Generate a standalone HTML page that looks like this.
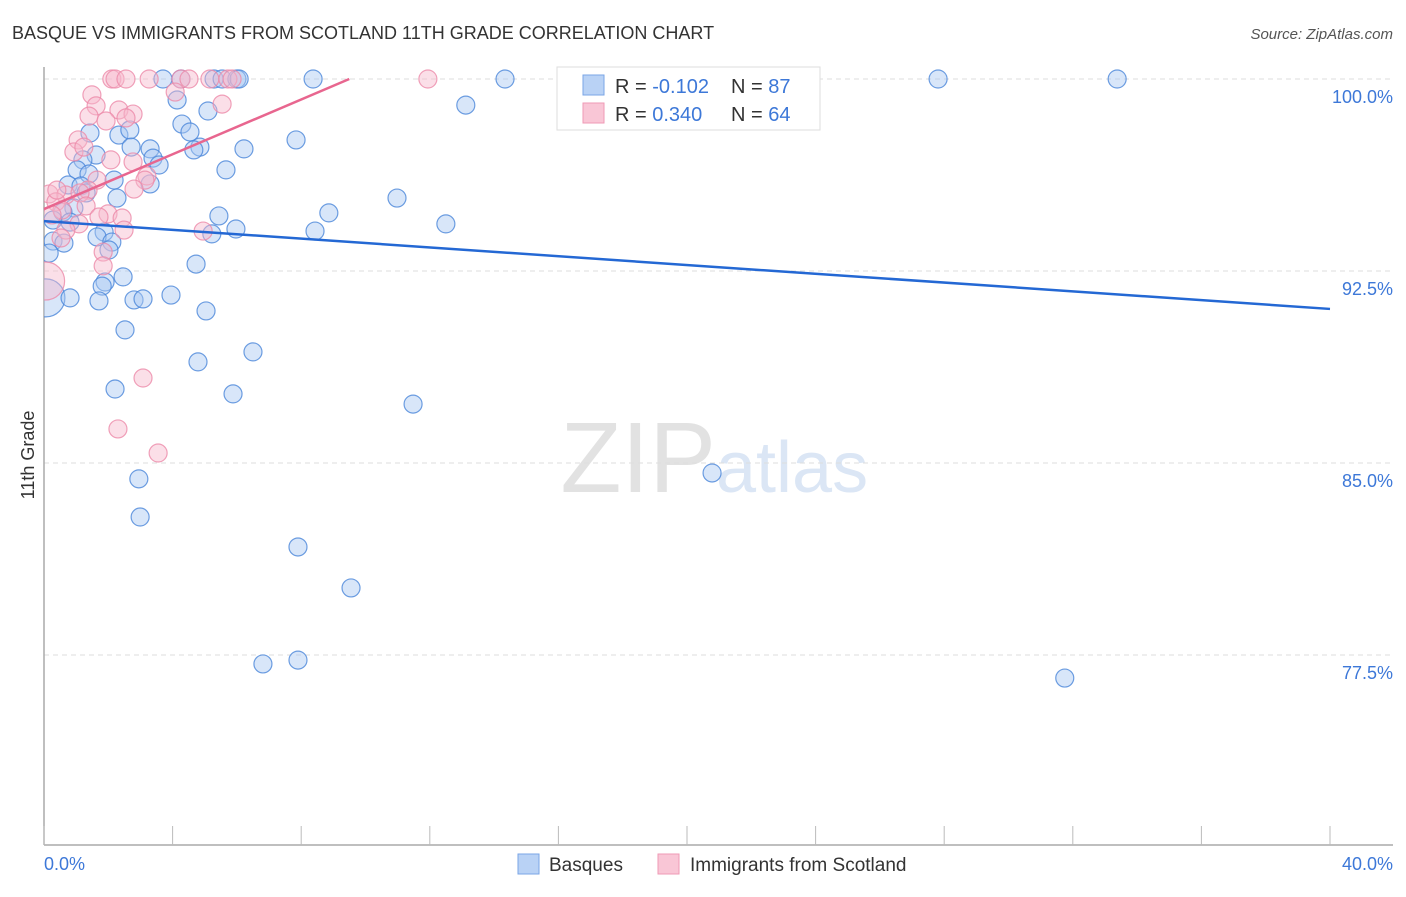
<!DOCTYPE html>
<html><head><meta charset="utf-8">
<style>
body{margin:0;background:#fff;font-family:"Liberation Sans",sans-serif;}
svg text{font-family:"Liberation Sans",sans-serif;}
</style></head>
<body>
<svg id="chart" width="1406" height="892" xmlns="http://www.w3.org/2000/svg">
<defs><clipPath id="plotclip"><rect x="44" y="60" width="1360" height="785"/></clipPath></defs>
<text x="12" y="39" font-size="18" fill="#333">BASQUE VS IMMIGRANTS FROM SCOTLAND 11TH GRADE CORRELATION CHART</text>
<text x="1393" y="39" font-size="15" fill="#555" text-anchor="end" font-style="italic">Source: ZipAtlas.com</text>
<text x="716" y="492" font-size="100" fill="#e2e2e2" text-anchor="end" font-family="Liberation Serif">ZIP</text>
<text x="716" y="492" font-size="72" fill="#dbe6f5">atlas</text>
<g id="grid"></g>
<g id="axes"></g>
<g id="pts" clip-path="url(#plotclip)"></g>
<g id="trend"></g>
<text transform="translate(34,455) rotate(-90)" font-size="18" fill="#333" text-anchor="middle">11th Grade</text>
<g>
<rect x="557" y="67" width="263" height="63" fill="#fff" stroke="#ddd"/>
<rect x="583" y="75" width="21" height="20" fill="#b9d2f5" stroke="#7aa5e6"/>
<rect x="583" y="103" width="21" height="20" fill="#f9c6d6" stroke="#ef9ab5"/>
<text x="615" y="93" font-size="20" fill="#333">R = <tspan fill="#3d78d8">-0.102</tspan></text>
<text x="731" y="93" font-size="20" fill="#333">N = <tspan fill="#3d78d8">87</tspan></text>
<text x="615" y="121" font-size="20" fill="#333">R = <tspan fill="#3d78d8"> 0.340</tspan></text>
<text x="731" y="121" font-size="20" fill="#333">N = <tspan fill="#3d78d8">64</tspan></text>
</g>
<g>
<rect x="518" y="854" width="21" height="20" fill="#b9d2f5" stroke="#7aa5e6"/>
<text x="549" y="871" font-size="19" fill="#333">Basques</text>
<rect x="658" y="854" width="21" height="20" fill="#f9c6d6" stroke="#ef9ab5"/>
<text x="690" y="871" font-size="19" fill="#333">Immigrants from Scotland</text>
</g>
</svg>
<script>
const yTicks=[100,92.5,85,77.5];
const yTickLabels=["100.0%","92.5%","85.0%","77.5%"];
const xTickLabels=["0.0%","40.0%"];
const blueX=[3.70,4.26,5.29,5.54,6.00,6.07,8.37,14.34,27.81,33.38,23.0,13.12,4.14,5.10,4.29,4.54,1.43,2.33,2.67,7.84,2.71,3.30,4.85,4.66,6.22,1.62,3.39,1.21,3.58,5.66,1.03,1.40,2.18,0.75,1.15,3.30,1.31,2.27,10.98,0.93,0.59,5.44,8.86,0.28,0.81,12.50,5.97,8.43,1.87,1.65,5.22,0.28,0.62,2.11,2.02,0.16,4.73,2.46,1.90,1.81,0.06,0.81,1.71,2.80,3.08,3.95,5.04,2.52,6.50,4.79,2.21,5.88,11.48,20.78,2.95,2.99,7.90,9.55,6.81,7.90,31.75];
const blueY=[100,100,100,100,100,100,100,100,100,100,100,98.98,99.18,98.75,98.24,97.93,97.89,97.81,98.01,97.62,97.34,97.27,97.34,97.23,97.27,97.03,96.91,96.84,96.64,96.45,96.45,96.29,96.05,95.86,95.82,95.90,95.55,95.35,95.35,94.96,94.80,94.65,94.77,94.49,94.41,94.34,94.14,94.06,94.02,93.83,93.95,93.67,93.59,93.63,93.32,93.20,92.77,92.27,92.07,91.91,91.45,91.45,91.33,91.37,91.41,91.56,90.94,90.20,89.34,88.95,87.89,87.70,87.30,84.61,84.38,82.89,81.72,80.12,77.15,77.30,76.60];
const pinkX=[2.11,2.21,2.55,3.27,4.26,4.51,5.16,5.72,5.85,11.94,4.08,1.49,1.62,5.54,2.33,1.40,1.93,2.77,2.55,1.06,0.93,1.24,2.08,2.77,3.20,3.14,1.65,2.80,1.37,0.16,0.68,1.12,0.37,1.31,0.56,1.99,2.43,1.71,1.09,0.68,2.49,4.95,0.53,1.84,1.84,0.05,3.08,2.30,3.55,0.40,0.25];
const pinkY=[100,100,100,100,100,100,100,100,100,100,99.49,99.38,98.95,99.02,98.79,98.55,98.36,98.63,98.48,97.62,97.15,97.34,96.84,96.76,96.21,96.05,96.05,95.70,95.66,95.51,95.47,95.55,95.20,95.04,94.88,94.73,94.57,94.61,94.34,94.10,94.10,94.06,93.79,93.24,92.70,92.11,88.32,86.33,85.39,95.66,94.69];
const blueTrend=[94.45,-0.0858];
const pinkTrend=[94.92,0.535];
const X0=44,X1=1330,Y100=79,PX=25.6;
const sx=v=>X0+(X1-X0)*v/40;
const sy=v=>Y100+(100-v)*PX;
const NS="http://www.w3.org/2000/svg";
function mk(tag,attrs,parent){const e=document.createElementNS(NS,tag);for(const k in attrs)e.setAttribute(k,attrs[k]);parent.appendChild(e);return e;}
const grid=document.getElementById('grid'),axes=document.getElementById('axes'),pts=document.getElementById('pts'),trend=document.getElementById('trend');
yTicks.forEach((t,i)=>{
  const l=mk('line',{x1:44,x2:1393,y1:sy(t),y2:sy(t),stroke:'#ddd','stroke-dasharray':'5,4'},grid);
  
  
  const tx=mk('text',{x:1393,y:sy(t)+24,'font-size':18,fill:'#3d78d8','text-anchor':'end'},grid);
  tx.textContent=yTickLabels[i];
  
  
});
let a=mk('line',{x1:44,x2:44,y1:67,y2:845,stroke:'#aaa','stroke-width':1.5},axes);


a=mk('line',{x1:44,x2:1393,y1:845,y2:845,stroke:'#aaa','stroke-width':1.5},axes);


for(let i=0;i<=10;i++){
  const t=mk('line',{x1:sx(i*4),x2:sx(i*4),y1:826,y2:845,stroke:'#bbb'},axes);
  
  
}
let xl=mk('text',{x:44,y:870,'font-size':18,fill:'#3d78d8'},axes);xl.textContent=xTickLabels[0];


xl=mk('text',{x:1393,y:870,'font-size':18,fill:'#3d78d8','text-anchor':'end'},axes);xl.textContent=xTickLabels[1];


function drawPts(xs,ys,fill,stroke,name){
  xs.forEach((x,i)=>{
    let r=9;
    if(x<0.1&&ys[i]<92.5)r=19;
    const c=mk('circle',{cx:sx(x),cy:sy(ys[i]),r:r,fill:fill,'fill-opacity':0.45,stroke:stroke,'stroke-opacity':0.8,'stroke-width':1.2},pts);
    
    
  });
}
drawPts(blueX,blueY,'#a9c8f2','#4a86da','basques-point');
drawPts(pinkX,pinkY,'#f7b9cc','#ec8aa9','scotland-point');
let tl=mk('line',{x1:sx(0),y1:sy(blueTrend[0]),x2:sx(40),y2:sy(blueTrend[0]+blueTrend[1]*40),stroke:'#2468d4','stroke-width':2.5},trend);


const pxEnd=(100-pinkTrend[0])/pinkTrend[1];
tl=mk('line',{x1:sx(0),y1:sy(pinkTrend[0]),x2:sx(pxEnd),y2:sy(100),stroke:'#e8668f','stroke-width':2.5},trend);


</script>
</body></html>
